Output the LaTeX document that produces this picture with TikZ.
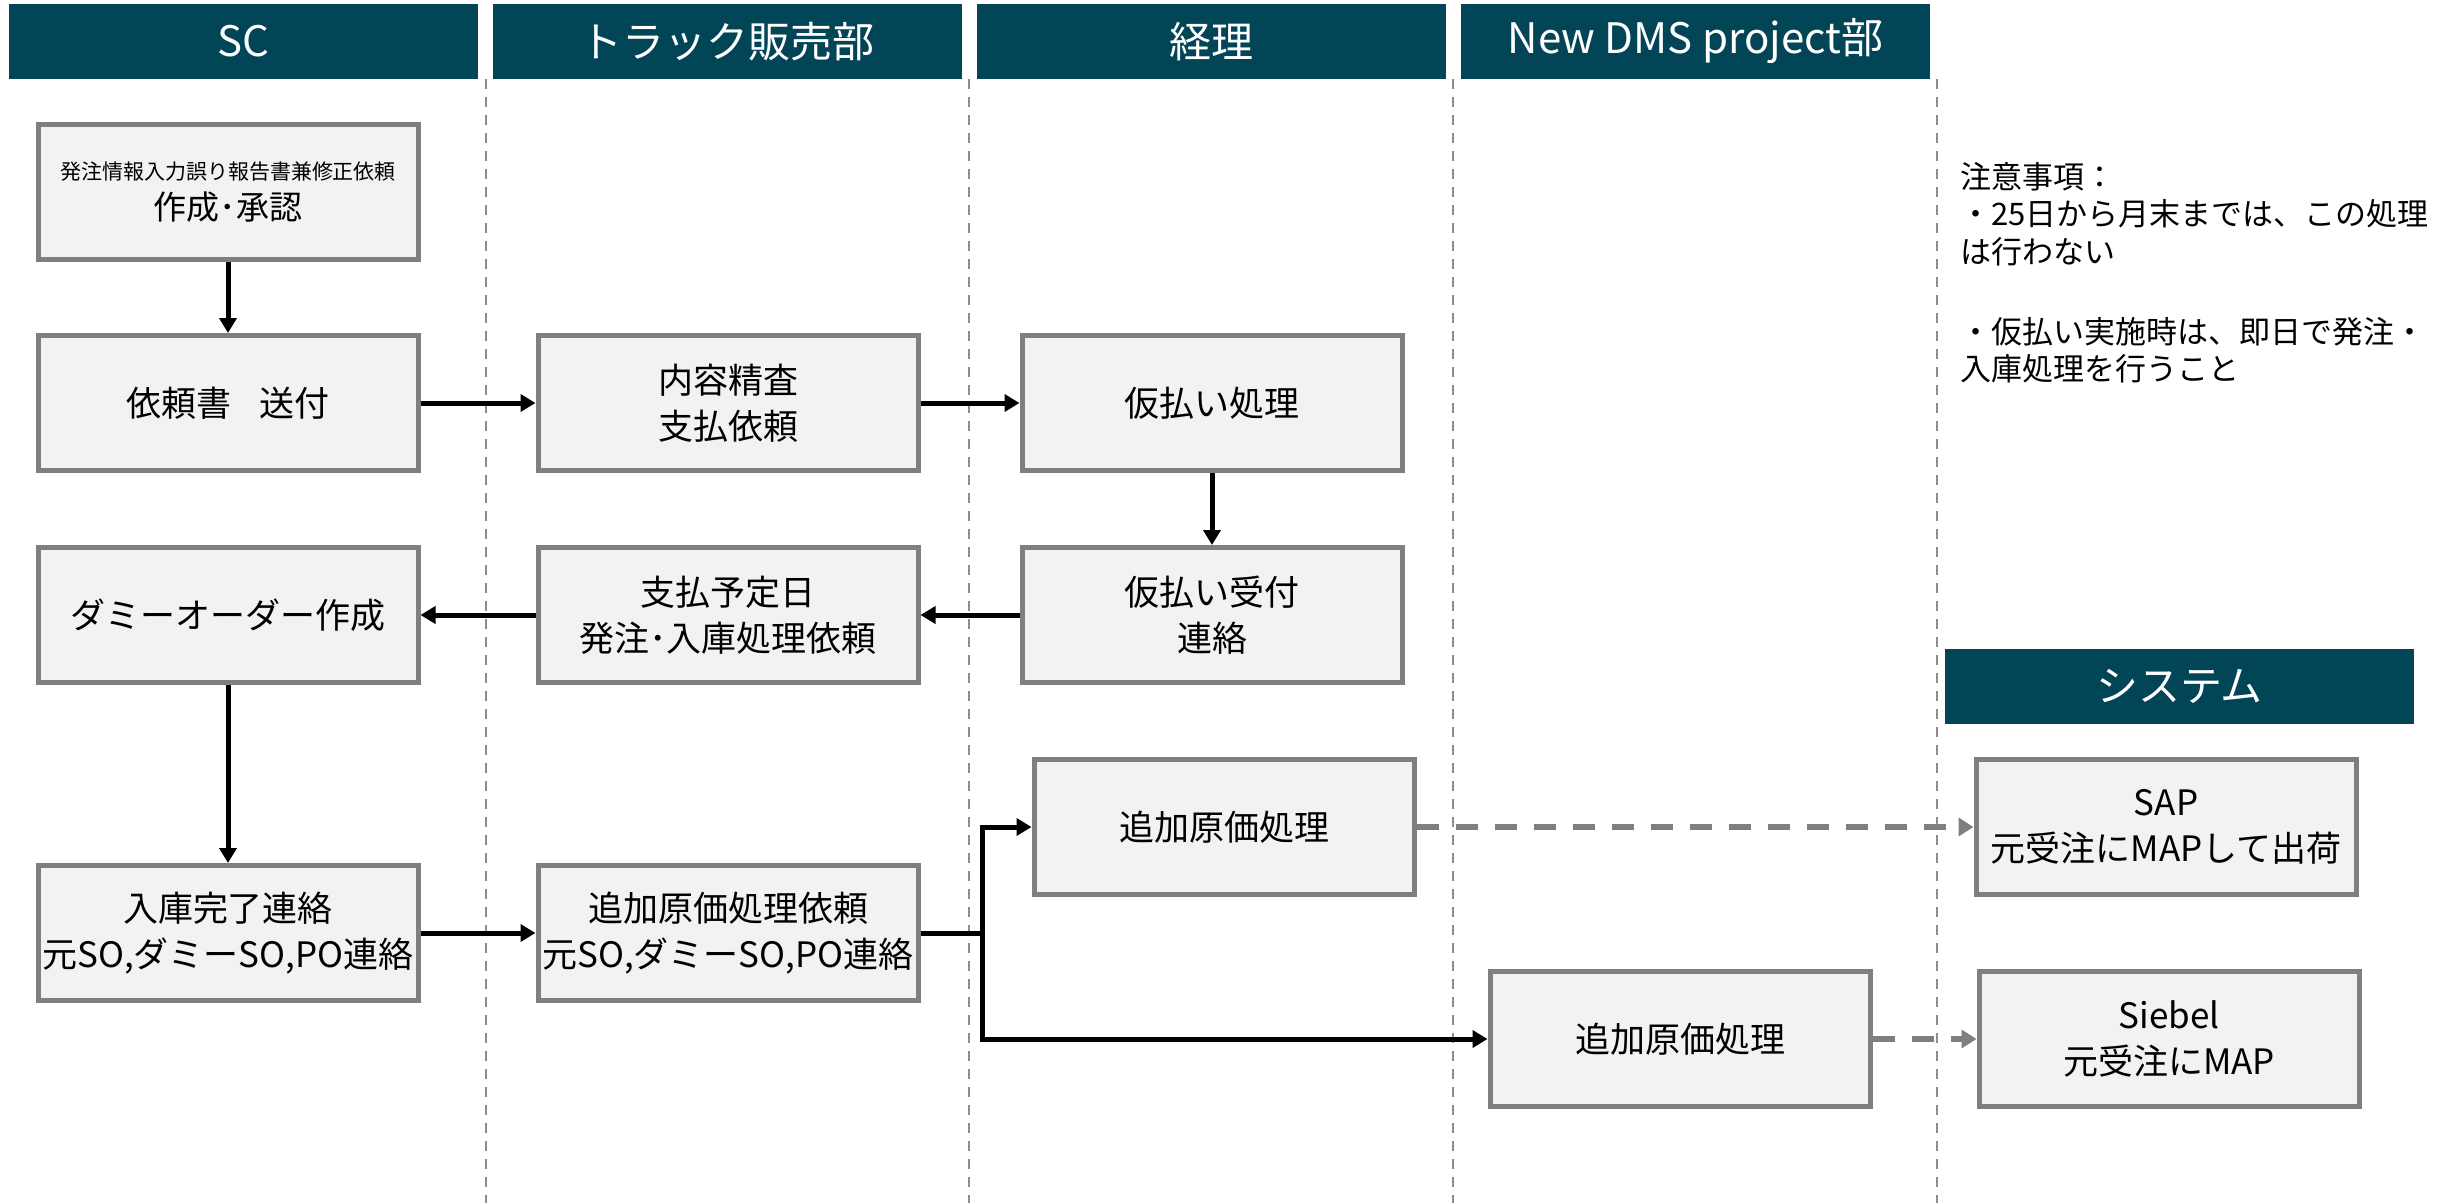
\documentclass[tikz,border=0pt]{standalone}
\usepackage{fontspec}
\setmainfont{Noto Sans CJK JP}
\usetikzlibrary{arrows.meta}
\definecolor{hdr}{RGB}{2,69,86}
\definecolor{boxfill}{RGB}{242,242,242}
\definecolor{boxline}{RGB}{127,127,127}
\definecolor{sepline}{RGB}{140,140,140}
\begin{document}
\begin{tikzpicture}[x=1pt,y=-1pt,
  hdrbox/.style={fill=hdr,text=white,minimum width=469pt,minimum height=75pt,inner sep=0pt,font=\fontsize{42}{50}\selectfont},
  pbox/.style={draw=boxline,fill=boxfill,line width=5pt,minimum width=380pt,minimum height=135pt,align=center,inner sep=0pt,font=\fontsize{35}{46}\selectfont},
  arr/.style={line width=5pt,-{Triangle[length=15pt,width=17pt]}},
  conn/.style={line width=5pt},
  garr/.style={draw=boxline,line width=6pt,dash pattern=on 22pt off 17pt,-{Triangle[length=15pt,width=18pt]}},
  sepl/.style={draw=sepline,line width=2pt,dash pattern=on 10pt off 8pt},
  note/.style={anchor=west,inner sep=0pt,font=\fontsize{31}{38}\selectfont}]
\useasboundingbox (0,0) rectangle (2453,1203);

% headers
\node[hdrbox] (h1) at (243.5,41.5) {SC};
\node[hdrbox] (h2) at (727,41.5) {トラック販売部};
\node[hdrbox] (h3) at (1211.5,41.5) {経理};
\node[hdrbox] (h4) at (1695.5,41.5) {New DMS project部};
\node[hdrbox] (h5) at (2179.5,686) {システム};

% lane separators
\draw[sepl] (486,79) -- (486,1203);
\draw[sepl] (969,79) -- (969,1203);
\draw[sepl] (1453,79) -- (1453,1203);
\draw[sepl] (1937,79) -- (1937,1203);

% process boxes
\node[pbox] (b1) at (228,192) {{\fontsize{21}{25}\selectfont 発注情報入力誤り報告書兼修正依頼}\\[-6pt]{\fontsize{33}{40}\selectfont 作成･承認}};
\node[pbox] (b2) at (228,403) {依頼書\hspace{0.8em}送付};
\node[pbox] (b3) at (728,403) {内容精査\\支払依頼};
\node[pbox] (b4) at (1212,403) {仮払い処理};
\node[pbox] (b5) at (1212,615) {仮払い受付\\連絡};
\node[pbox] (b6) at (728,615) {支払予定日\\発注･入庫処理依頼};
\node[pbox] (b7) at (228,615) {ダミーオーダー作成};
\node[pbox] (b8) at (228,933) {入庫完了連絡\\元SO,ダミーSO,PO連絡};
\node[pbox] (b9) at (728,933) {追加原価処理依頼\\元SO,ダミーSO,PO連絡};
\node[pbox] (b10) at (1224,827) {追加原価処理};
\node[pbox] (b11) at (1680,1039) {追加原価処理};
\node[pbox] (b12) at (2166,827) {SAP\\元受注にMAPして出荷};
\node[pbox] (b13) at (2169,1039) {Siebel\\元受注にMAP};

% notes
\node[note] (n1) at (1960,177) {注意事項：};
\node[note] (n2) at (1960,214) {・25日から月末までは、この処理};
\node[note] (n3) at (1960,252) {は行わない};
\node[note] (n4) at (1960,332) {・仮払い実施時は、即日で発注・};
\node[note] (n5) at (1960,369) {入庫処理を行うこと};

% connectors
\draw[arr] (b1.south) -- (b2.north);
\draw[arr] (b2.east) -- (b3.west);
\draw[arr] (b3.east) -- (b4.west);
\draw[arr] (b4.south) -- (b5.north);
\draw[arr] (b5.west) -- (b6.east);
\draw[arr] (b6.west) -- (b7.east);
\draw[arr] (b7.south) -- (b8.north);
\draw[arr] (b8.east) -- (b9.west);
\coordinate (br) at (982,933);
\draw[conn] (b9.east) -- (br);
\draw[arr] (br) |- (b10.west);
\draw[arr] (br) |- (b11.west);
\draw[garr] (b10.east) -- (b12.west);
\draw[garr] (b11.east) -- (b13.west);
\end{tikzpicture}
\end{document}
